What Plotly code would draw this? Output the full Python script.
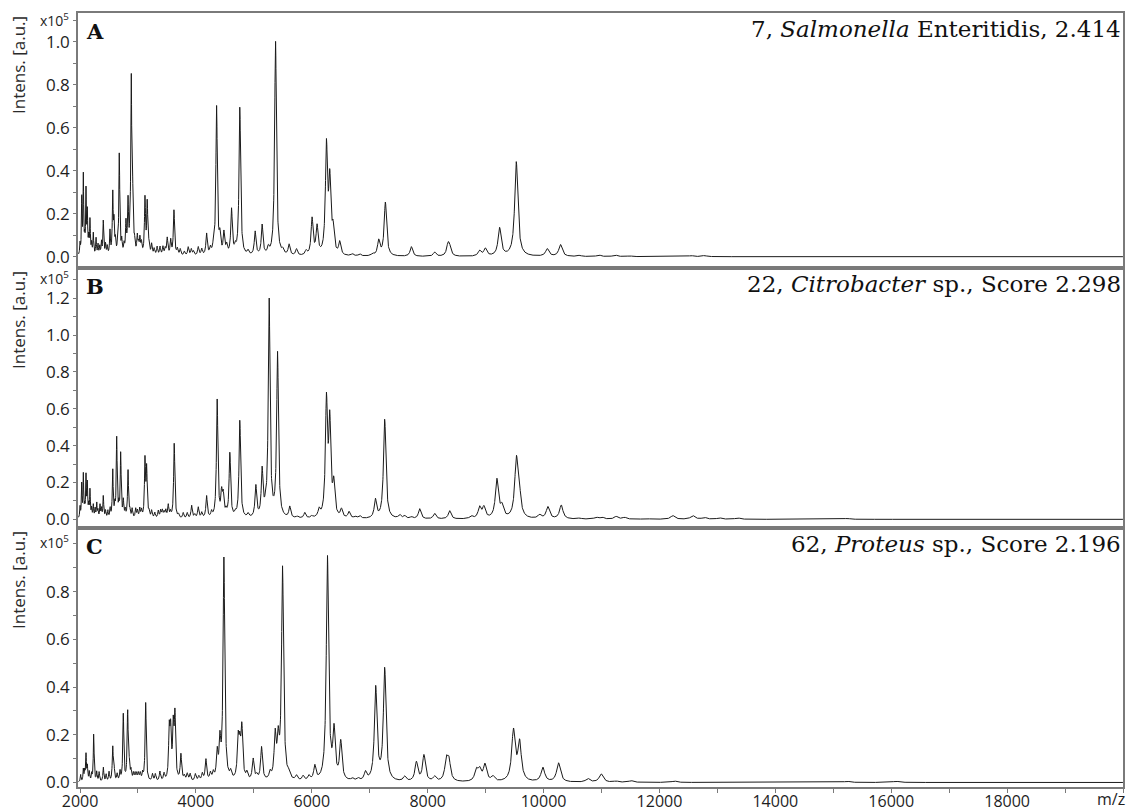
import numpy as np
import plotly.graph_objects as go

# ---------------- data: peak lists (m/z, intensity x1e5) ----------------
a_mz = [2030, 2057, 2103, 2126, 2172, 2229, 2276, 2402, 2517, 2564, 2586, 2678, 2793, 2828, 2884, 2908,
        2988, 3034, 3121, 3160, 3236, 3330, 3380, 3430, 3505, 3564, 3621, 3867, 4040, 4184, 4357, 4414,
        4483, 4615, 4758, 5022, 5143, 5374, 5608, 5736, 6005, 6091, 6253, 6310, 6367, 6482, 6827, 7155,
        7270, 7719, 8120, 8350, 8379, 8896, 8994, 9241, 9529, 10063, 10292, 10620, 10953, 11235, 11482,
        12546, 12775]
a_int = [0.26, 0.36, 0.29, 0.19, 0.16, 0.10, 0.08, 0.16, 0.11, 0.28, 0.14, 0.47, 0.14, 0.24, 0.80, 0.25,
         0.08, 0.07, 0.26, 0.24, 0.05, 0.04, 0.04, 0.04, 0.08, 0.07, 0.21, 0.04, 0.04, 0.10, 0.69, 0.08,
         0.10, 0.21, 0.69, 0.11, 0.14, 1.00, 0.05, 0.03, 0.17, 0.13, 0.50, 0.33, 0.11, 0.06, 0.01, 0.07,
         0.25, 0.045, 0.02, 0.05, 0.035, 0.025, 0.035, 0.13, 0.44, 0.035, 0.055, 0.005, 0.008, 0.008,
         0.004, 0.005, 0.005]

b_mz = [2029, 2057, 2103, 2126, 2172, 2229, 2288, 2345, 2402, 2564, 2633, 2702, 2747, 2828, 2900, 2960,
        3030, 3121, 3150, 3236, 3350, 3420, 3480, 3522, 3626, 3781, 3926, 4040, 4184, 4367, 4443, 4471,
        4586, 4758, 5034, 5143, 5264, 5409, 5620, 5879, 6126, 6253, 6310, 6379, 6512, 6643, 6827, 7098,
        7258, 7517, 7603, 7719, 7862, 8120, 8379, 8753, 8896, 8970, 9194, 9281, 9529, 9574, 9930, 10074,
        10305, 10620, 10908, 11011, 11252, 11396, 11770, 12229, 12574, 12775, 13034, 13349, 15240]
b_int = [0.18, 0.23, 0.22, 0.18, 0.15, 0.07, 0.08, 0.07, 0.12, 0.26, 0.43, 0.35, 0.09, 0.26, 0.05, 0.05,
         0.05, 0.31, 0.26, 0.04, 0.04, 0.04, 0.04, 0.07, 0.41, 0.03, 0.07, 0.06, 0.12, 0.64, 0.12, 0.11,
         0.35, 0.53, 0.17, 0.25, 1.18, 0.89, 0.06, 0.03, 0.04, 0.62, 0.50, 0.17, 0.045, 0.035, 0.015, 0.10,
         0.54, 0.02, 0.015, 0.01, 0.055, 0.03, 0.045, 0.015, 0.06, 0.06, 0.21, 0.06, 0.29, 0.15, 0.02, 0.065,
         0.075, 0.005, 0.01, 0.01, 0.015, 0.01, 0.005, 0.02, 0.02, 0.01, 0.008, 0.008, 0.005]

c_mz = [2057, 2103, 2126, 2236, 2288, 2402, 2564, 2586, 2747, 2822, 2850, 2920, 2980, 3040, 3133, 3379,
        3540, 3564, 3609, 3638, 3741, 3900, 3990, 4110, 4172, 4367, 4414, 4483, 4729, 4758, 4793, 4988,
        5133, 5367, 5419, 5495, 5736, 6052, 6270, 6384, 6500, 6926, 7103, 7258, 7603, 7805, 7936, 8120,
        8322, 8367, 8839, 8896, 8988, 9126, 9480, 9586, 9988, 10258, 10764, 10994, 11252, 11511,
        12258, 15240, 16085]
c_int = [0.05, 0.11, 0.06, 0.20, 0.04, 0.06, 0.14, 0.06, 0.28, 0.29, 0.06, 0.03, 0.03, 0.03, 0.33, 0.04,
         0.20, 0.19, 0.21, 0.26, 0.11, 0.03, 0.03, 0.03, 0.09, 0.11, 0.15, 0.93, 0.16, 0.12, 0.21, 0.09,
         0.14, 0.18, 0.15, 0.89, 0.02, 0.06, 0.94, 0.20, 0.16, 0.035, 0.39, 0.47, 0.02, 0.08, 0.11, 0.02,
         0.085, 0.08, 0.045, 0.045, 0.07, 0.02, 0.21, 0.16, 0.06, 0.08, 0.015, 0.035, 0.005, 0.007,
         0.006, 0.005, 0.005]

# small baseline peaks (noise-like structure)
a_minor_mz = [2000, 2080, 2150, 2200, 2310, 2340, 2370, 2440, 2470, 2610, 2650, 2720, 2760, 2860, 2940,
              3010, 3060, 3190, 3280, 3470, 3680, 3730, 3800, 3920, 3960, 4100, 4250, 4300, 4530, 4680,
              4900, 5250, 5500, 5900, 6700, 7050]
a_minor_int = [0.05, 0.06, 0.07, 0.05, 0.05, 0.04, 0.06, 0.05, 0.04, 0.06, 0.05, 0.06, 0.04, 0.05, 0.05,
               0.04, 0.05, 0.04, 0.03, 0.03, 0.03, 0.03, 0.02, 0.03, 0.02, 0.03, 0.03, 0.03, 0.04, 0.03,
               0.02, 0.03, 0.02, 0.02, 0.01, 0.01]
b_minor_mz = [2000, 2080, 2150, 2200, 2260, 2310, 2370, 2440, 2480, 2520, 2600, 2670, 2780, 2860, 2990,
              3060, 3190, 3290, 3390, 3450, 3560, 3700, 3850, 3980, 4100, 4270, 4520, 4680, 4900, 5200,
              5750, 6000, 6750]
b_minor_int = [0.06, 0.05, 0.06, 0.05, 0.05, 0.04, 0.05, 0.04, 0.04, 0.05, 0.06, 0.06, 0.04, 0.04, 0.04,
               0.04, 0.03, 0.03, 0.04, 0.03, 0.03, 0.02, 0.03, 0.02, 0.03, 0.03, 0.03, 0.02, 0.02, 0.03,
               0.01, 0.01, 0.01]
c_minor_mz = [2010, 2080, 2160, 2200, 2330, 2450, 2500, 2640, 2690, 2880, 2950, 3010, 3080, 3250, 3300,
              3450, 3800, 3850, 4050, 4250, 4300, 4600, 4880, 5050, 5280, 5600, 5850, 5950, 6700, 6800]
c_minor_int = [0.03, 0.04, 0.04, 0.03, 0.04, 0.03, 0.04, 0.03, 0.04, 0.04, 0.03, 0.03, 0.03, 0.03, 0.03,
               0.03, 0.02, 0.03, 0.02, 0.03, 0.03, 0.03, 0.03, 0.02, 0.03, 0.02, 0.02, 0.02, 0.01, 0.01]

panel_letters = ["A", "B", "C"]
panel_titles = ["7, <i>Salmonella</i> Enteritidis, 2.414",
                "22, <i>Citrobacter</i> sp., Score 2.298",
                "62, <i>Proteus</i> sp., Score 2.196"]
y_ticks = [[0.0, 0.2, 0.4, 0.6, 0.8, 1.0],
           [0.0, 0.2, 0.4, 0.6, 0.8, 1.0, 1.2],
           [0.0, 0.2, 0.4, 0.6, 0.8]]
x_ticks = [2000, 4000, 6000, 8000, 10000, 12000, 14000, 16000, 18000]
x_tick_labels = ["2000", "4000", "6000", "8000", "10000", "12000", "14000", "16000", "18000"]

# ---------------- rendering ----------------
mz_grid = np.arange(1975.0, 20000.0, 2.0)


def spectrum(mz, inten, mmz, mint, rel_width=0.0068):
    centers = np.array(list(mz) + list(mmz), dtype=float)
    heights = np.array(list(inten) + list(mint), dtype=float)
    fwhm = rel_width * centers
    d = (mz_grid[:, None] - centers[None, :]) / (fwhm[None, :] / 2.0)
    return (heights[None, :] / (1.0 + d * d)).sum(axis=1)


spectra = [spectrum(a_mz, a_int, a_minor_mz, a_minor_int),
           spectrum(b_mz, b_int, b_minor_mz, b_minor_int),
           spectrum(c_mz, c_int, c_minor_mz, c_minor_int, 0.0075)]

# layout geometry (pixels)
W, H = 1129, 812
L, R, T, B = 78, 6, 13, 25
pw, ph = W - L - R, H - T - B
panel_px = [(13, 268), (268, 528), (528, 787)]
exp_offset = [7, 10, 14]
y_ranges = [[-0.0526, 1.1335], [-0.047, 1.364], [-0.019, 1.067]]


def py(ypx):
    return (H - B - ypx) / ph


def px(xpx):
    return (xpx - L) / pw


fig = go.Figure()
frame = "#7a7a7a"
tick_font = dict(family="Open Sans", size=17, color="#1e1e1e")

for i in range(3):
    n = "" if i == 0 else str(i + 1)
    fig.add_trace(go.Scatter(x=mz_grid, y=spectra[i], mode="lines",
                             line=dict(color="#1a1a1a", width=1),
                             xaxis="x" + n, yaxis="y" + n, showlegend=False,
                             hoverinfo="skip"))
    top, bot = panel_px[i]
    fig.layout["xaxis" + n] = dict(
        domain=[0, 1], range=[1965, 20000], anchor="y" + n, automargin=False,
        showline=True, mirror=True, linecolor=frame, linewidth=1.5,
        showgrid=False, zeroline=False,
        tickvals=x_ticks, ticktext=x_tick_labels, showticklabels=(i == 2),
        ticks="outside" if i == 2 else "", ticklen=4, tickcolor=frame,
        ticklabelstandoff=-5,
        minor=dict(dtick=1000, tick0=0, ticks="outside" if i == 2 else "", ticklen=4, tickcolor=frame),
        tickfont=dict(family="Open Sans", size=16, color="#1e1e1e"),
        matches=None if i == 0 else "x")
    fig.layout["yaxis" + n] = dict(
        domain=[py(bot), py(top)], range=y_ranges[i], anchor="x" + n, automargin=False,
        showline=True, mirror=True, linecolor=frame, linewidth=1.5,
        showgrid=False, zeroline=False,
        tickvals=y_ticks[i], tickformat=".1f", ticks="outside", ticklen=3,
        tickcolor=frame, tickfont=tick_font,
        minor=dict(dtick=0.1, tick0=0, ticks="outside", ticklen=3, tickcolor=frame))

    fig.add_annotation(text="<b>" + panel_letters[i] + "</b>", xref="paper", yref="paper",
                       x=px(84), y=py(top + 4), xanchor="left", yanchor="top", showarrow=False,
                       font=dict(family="DejaVu Serif", size=21, color="#111"))
    fig.add_annotation(text=panel_titles[i], xref="paper", yref="paper",
                       x=px(1123), y=py(top + 1), xanchor="right", yanchor="top", showarrow=False,
                       font=dict(family="DejaVu Serif", size=23, color="#111"))
    fig.add_annotation(text="x10<sup>5</sup>", xref="paper", yref="paper",
                       x=px(54), y=py(top + exp_offset[i]), xanchor="center", yanchor="middle",
                       showarrow=False, font=dict(family="Open Sans", size=14, color="#1e1e1e"))
    fig.add_annotation(text="Intens. [a.u.]", xref="paper", yref="paper", textangle=-90,
                       x=px(18), y=py(top + 1), xanchor="center", yanchor="top", showarrow=False,
                       font=dict(family="Open Sans", size=17, color="#2a2a2a"))

fig.add_annotation(text="m/z", xref="paper", yref="paper", x=px(1127), y=py(799),
                   xanchor="right", yanchor="middle", showarrow=False,
                   font=dict(family="Open Sans", size=16, color="#1e1e1e"))

fig.update_layout(width=W, height=H, margin=dict(l=L, r=R, t=T, b=B),
                  plot_bgcolor="white", paper_bgcolor="white")

fig.write_html("out.html", config={"displayModeBar": False},
               post_script="document.body.style.margin='0px';document.body.style.overflow='hidden';")
